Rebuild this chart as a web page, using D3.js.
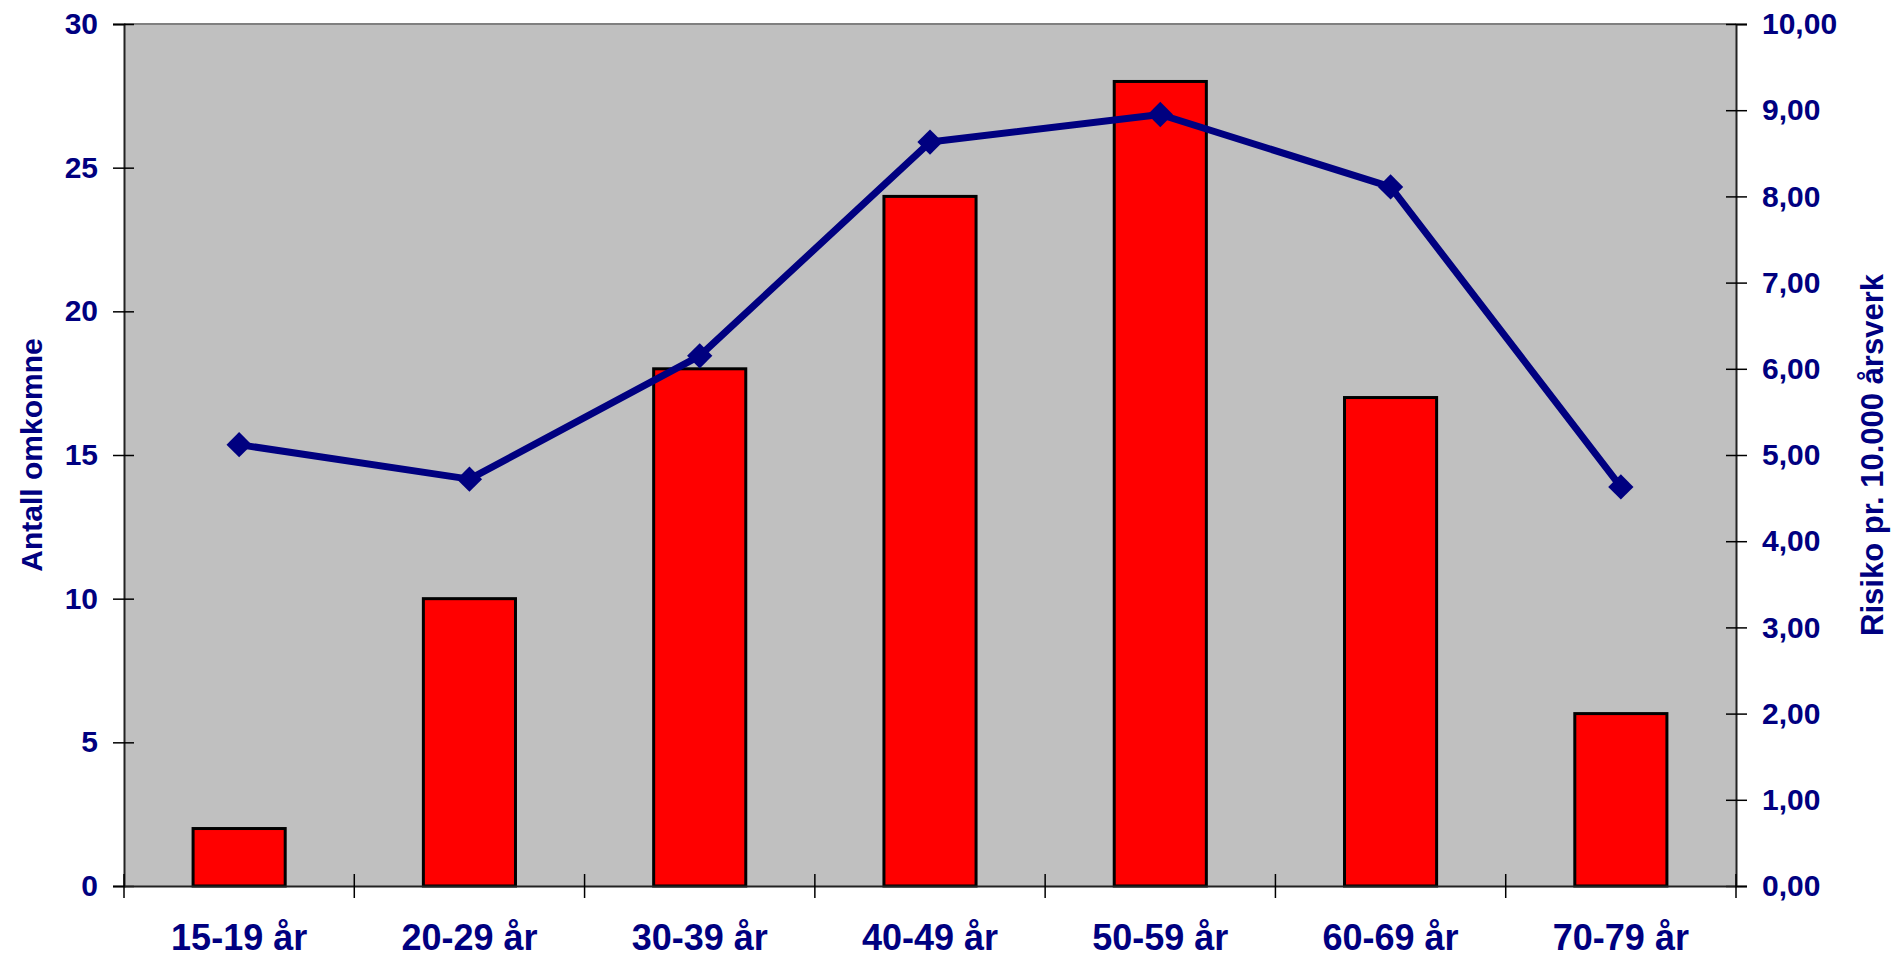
<!DOCTYPE html>
<html>
<head>
<meta charset="utf-8">
<script src="https://cdn.jsdelivr.net/npm/d3@7"></script>
<style>
  body { margin: 0; background: #fff; }
  text { font-family: "Liberation Sans", Arial, sans-serif; font-weight: bold; fill: #000080; }
</style>
</head>
<body>
<div id="viz"></div>
<script>
// data lest av bildet
const categories = ["15-19 år", "20-29 år", "30-39 år", "40-49 år", "50-59 år", "60-69 år", "70-79 år"];
const omkomne = [2, 10, 18, 24, 28, 17, 6];
const risiko = [5.12, 4.72, 6.15, 8.63, 8.95, 8.11, 4.63];
const leftTicks = [0, 5, 10, 15, 20, 25, 30];
const rightTicks = [0, 1, 2, 3, 4, 5, 6, 7, 8, 9, 10];

const margin = {top: 24, right: 159, bottom: 72, left: 124},
  width = 1895 - margin.left - margin.right,
  height = 958 - margin.top - margin.bottom;

const svg = d3.select("#viz").append("svg")
  .attr("width", 1895).attr("height", 958)
  .append("g")
  .attr("transform", `translate(${margin.left}, ${margin.top})`);

const x = d3.scaleBand()
  .domain(categories)
  .range([0, width])
  .paddingInner(0.6)
  .paddingOuter(0.3);

const y = d3.scaleLinear().domain([0, 30]).range([height, 0]);
const y2 = d3.scaleLinear().domain([0, 10]).range([height, 0]);

// grå bakgrunn
svg.append("rect")
  .attr("width", width).attr("height", height)
  .style("fill", "#c0c0c0");
svg.append("line")
  .attr("x1", 0).attr("x2", width).attr("y1", 0).attr("y2", 0)
  .style("stroke", "#808080").style("stroke-width", 2);

// stolper
svg.selectAll(".bar")
  .data(omkomne)
  .join("rect")
  .attr("class", "bar")
  .attr("x", (d, i) => x(categories[i]))
  .attr("y", d => y(d))
  .attr("width", x.bandwidth())
  .attr("height", d => height - y(d))
  .style("fill", "#ff0000")
  .style("stroke", "#000")
  .style("stroke-width", 3);

// venstre akse
const leftAxis = svg.append("g")
  .call(d3.axisLeft(y).tickValues(leftTicks).tickSize(11).tickPadding(15).tickFormat(d3.format("d")));
leftAxis.selectAll(".tick line").attr("x1", 10);
leftAxis.select(".domain").style("stroke", "#222").style("stroke-width", 2);
leftAxis.selectAll("text").style("font-size", "30px");

// høyre akse
const rightAxis = svg.append("g")
  .attr("transform", `translate(${width}, 0)`)
  .call(d3.axisRight(y2).tickValues(rightTicks).tickSize(11).tickPadding(15)
    .tickFormat(d => d3.format(".2f")(d).replace(".", ",")));
rightAxis.selectAll(".tick line").attr("x1", -10);
rightAxis.select(".domain").style("stroke", "#222").style("stroke-width", 2);
rightAxis.selectAll("text").style("font-size", "30px");

// x-akse
const bottomAxis = svg.append("g")
  .attr("transform", `translate(0, ${height})`)
  .call(d3.axisBottom(x).tickSize(0).tickPadding(38));
bottomAxis.select(".domain").style("stroke", "#222").style("stroke-width", 2);
bottomAxis.selectAll("text").style("font-size", "36px");

// skillestreker mellom kategoriene
svg.append("g")
  .selectAll("line")
  .data(d3.range(categories.length + 1))
  .join("line")
  .attr("x1", i => i * x.step()).attr("x2", i => i * x.step())
  .attr("y1", height - 12).attr("y2", height + 12)
  .style("stroke", "#000").style("stroke-width", 1.5);

svg.selectAll(".tick line").style("stroke", "#000").style("stroke-width", 1.5);

// linje for risiko
const center = i => x(categories[i]) + x.bandwidth() / 2;
const line = d3.line()
  .x((d, i) => center(i))
  .y(d => y2(d));

svg.append("path")
  .datum(risiko)
  .attr("d", line)
  .style("fill", "none")
  .style("stroke", "#000080")
  .style("stroke-width", 7)
  .style("stroke-linejoin", "round");

svg.selectAll(".marker")
  .data(risiko)
  .join("path")
  .attr("class", "marker")
  .attr("d", d3.symbol(d3.symbolSquare, 320))
  .attr("transform", (d, i) => `translate(${center(i)}, ${y2(d)}) rotate(45)`)
  .style("fill", "#000080");

// aksetitler
svg.append("text")
  .attr("transform", `translate(${42 - margin.left}, ${height / 2}) rotate(-90)`)
  .attr("text-anchor", "middle")
  .style("font-size", "30px")
  .text("Antall omkomne");

svg.append("text")
  .attr("transform", `translate(${1883 - margin.left}, ${height / 2}) rotate(-90)`)
  .attr("text-anchor", "middle")
  .style("font-size", "31px")
  .text("Risiko pr. 10.000 årsverk");
</script>
</body>
</html>
